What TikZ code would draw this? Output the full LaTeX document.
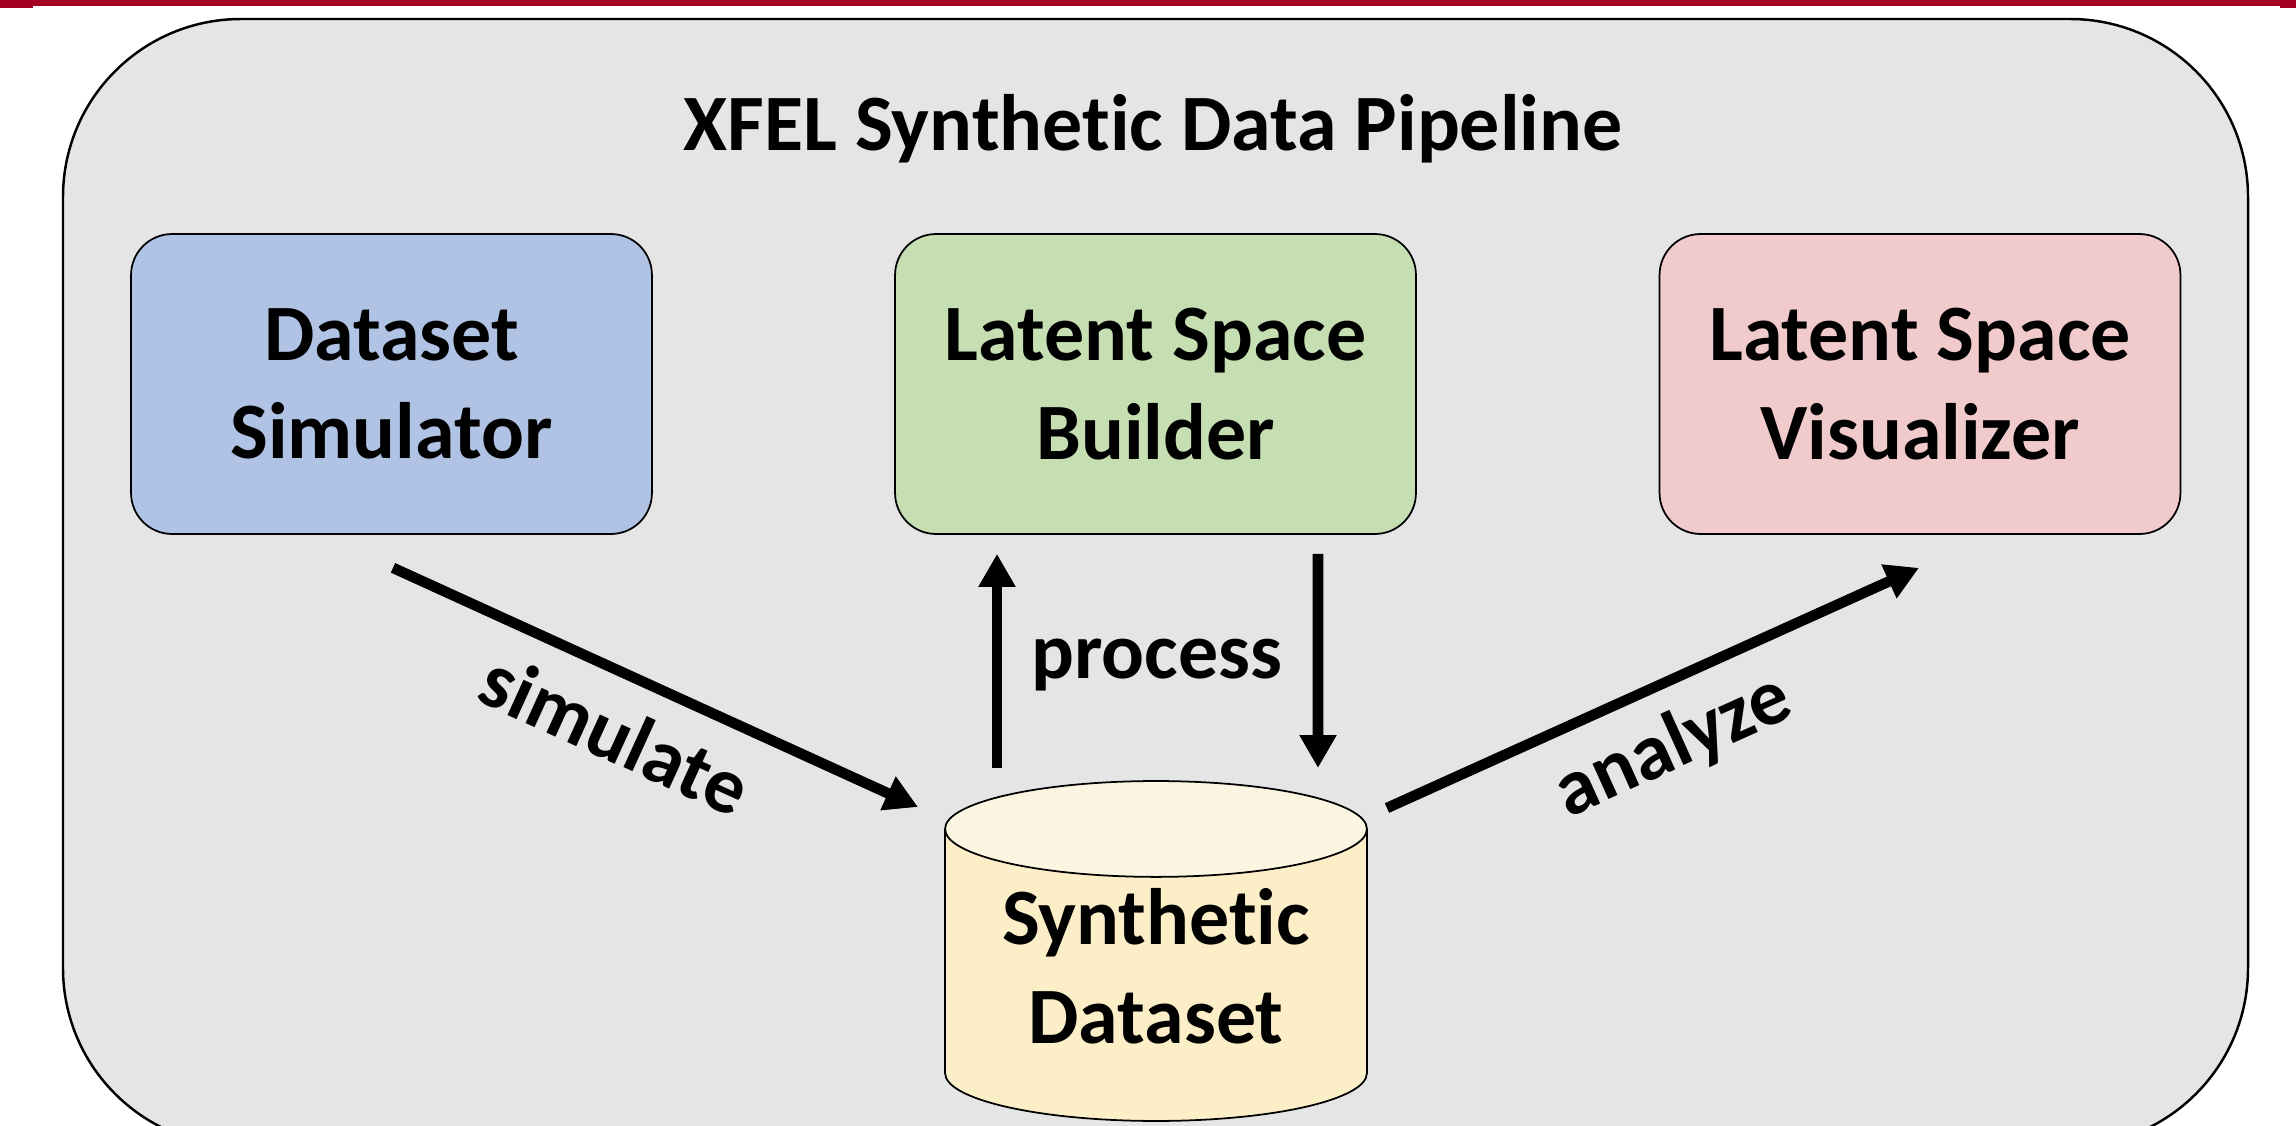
\documentclass[tikz,border=0pt]{standalone}
\usepackage{fontspec}
\setmainfont{Carlito}[Ligatures=NoCommon]
\usepackage{tikz}
\usetikzlibrary{arrows.meta,positioning,calc,shapes.geometric}
\definecolor{simblue}{HTML}{B0C3E5}
\definecolor{buildgreen}{HTML}{C5DEB2}
\definecolor{vispink}{HTML}{F1CBCB}
\definecolor{dsbody}{HTML}{FCEFC8}
\definecolor{dstop}{HTML}{FBF5E2}
\definecolor{panelgray}{HTML}{E5E5E5}
\definecolor{barred}{HTML}{A50021}
\newcommand\lbl{\fontsize{45.5}{56}\selectfont\bfseries}

\begin{document}
\begin{tikzpicture}[x=0.02cm,y=-0.02cm]%
\tikzstyle{stage}=[draw,line width=1pt,rounded corners=0.82cm,align=center,minimum width=10.42cm,minimum height=6cm,font=\lbl] %%
\tikzstyle{store}=[cylinder,shape border rotate=90,draw,line width=1pt,aspect=0.30,minimum width=8.44cm,minimum height=6.8cm,cylinder uses custom fill,cylinder body fill=dsbody,cylinder end fill=dstop,align=center,text depth=0.6cm,font=\lbl] %%
\tikzstyle{flow}=[line width=6pt,-{Triangle[length=0.66cm,width=0.7cm]}] %%
\tikzstyle{tag}=[font=\lbl,inner sep=0pt] %%
\useasboundingbox (0,0) rectangle (2296,1126);
\clip (0,0) rectangle (2296,1126);
%% top rule
\fill[barred] (0,0) rectangle (2296,6);
\fill[barred] (0,0) rectangle (33,7.5);
\fill[barred] (2280,0) rectangle (2296,7.5);
%% panel
\draw[fill=panelgray,line width=1.4pt,rounded corners=3.56cm] (63,19) rectangle (2248,1146);
\node[tag,anchor=base] (title) at (1153,150) {XFEL Synthetic Data Pipeline}; %%
%% stages
\node[stage,fill=simblue] (sim) at (391.5,384) {Dataset\\Simulator}; %%
\node[stage,fill=buildgreen] (build) at (1155.5,384) {Latent Space\\Builder}; %%
\node[stage,fill=vispink] (vis) at (1920,384) {Latent Space\\Visualizer}; %%
\node[store] (ds) at (1156,981) {Synthetic\\Dataset}; %%
%% arrow ends
\coordinate (simOut) at ($(sim.south)+(1.5,33)$);
\coordinate (dsIn) at ($(ds.center)+(-238,-174)$);
\coordinate (upFrom) at ($(ds.center)+(-159,-213)$);
\coordinate (upTo) at ($(build.south)+(-158.5,19)$);
\coordinate (downFrom) at ($(build.south)+(162.5,19)$);
\coordinate (downTo) at ($(ds.center)+(162,-213)$);
\coordinate (dsOut) at ($(ds.center)+(231,-173)$);
\coordinate (visIn) at ($(vis.south)+(-1,33)$);
\draw[flow] (simOut) -- (dsIn) node[tag,pos=.47,sloped,below=0.5cm] (simlbl) {simulate}; %%
\draw[flow] (upFrom) -- (upTo); %%
\draw[flow] (downFrom) -- (downTo); %%
\node[tag,anchor=base] (proc) at (1157,678) {process}; %%
\draw[flow] (dsOut) -- (visIn) node[tag,pos=.49,sloped,below=0.45cm] (anlbl) {analyze}; %%
\end{tikzpicture}
\end{document}
